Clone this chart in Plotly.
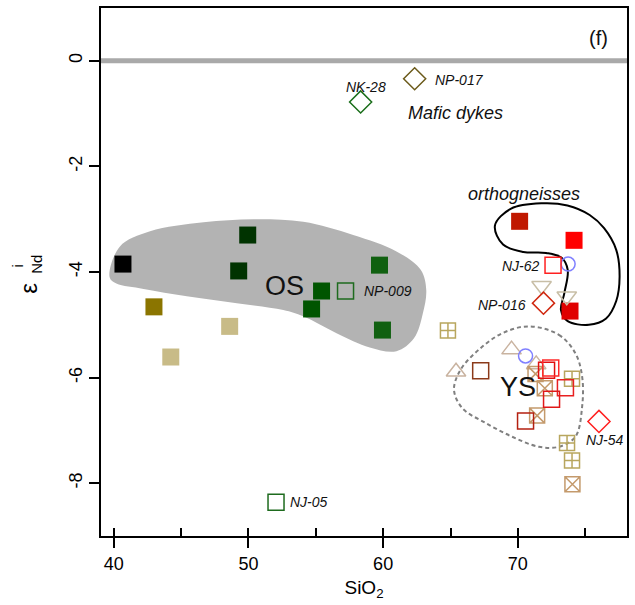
import plotly.graph_objects as go

# ---------------- data: SiO2 (wt%) vs initial epsilon Nd ----------------
# Older series (OS), filled squares
os_sio2 = [40.69, 42.99, 44.24, 48.61, 49.95, 49.28, 55.43, 54.69, 59.73, 59.95]
os_end = [-3.85, -4.66, -5.61, -5.03, -3.30, -3.98, -4.36, -4.70, -3.87, -5.10]
os_colors = ["#000000", "#8B7500", "#C8BB87", "#C8BB87", "#003300",
             "#003300", "#005500", "#005500", "#106010", "#106010"]

# Open green squares with sample names
grn_names = ["NP-009", "NJ-05"]
grn_sio2 = [57.21, 52.05]
grn_end = [-4.36, -8.36]

# Mafic dykes (open diamonds)
dyke_names = ["NK-28", "NP-017"]
dyke_sio2 = [58.33, 62.34]
dyke_end = [-0.78, -0.34]
dyke_colors = ["#1A6E1A", "#6B5A1A"]

# Orthogneisses, filled squares
ortho_sio2 = [70.13, 74.17, 73.87]
ortho_end = [-3.04, -3.40, -4.74]
ortho_colors = ["#C01800", "#FF0000", "#E00000"]

# Open red squares (NJ-62 and the younger series)
rsq_sio2 = [72.61, 72.13, 72.44, 73.53, 72.50, 70.57]
rsq_end = [-3.87, -5.86, -5.82, -6.19, -6.41, -6.82]
rsq_colors = ["#FF2020", "#E01010", "#FF2A2A", "#E82020", "#E01818", "#B42010"]

# Brown open square
brn_sio2 = [67.24]
brn_end = [-5.87]

# Red open diamonds
rdia_names = ["NP-016", "NJ-54"]
rdia_sio2 = [71.90, 76.02]
rdia_end = [-4.59, -6.83]
rdia_colors = ["#D02810", "#FF2020"]

# Blue open circles
circ_sio2 = [73.73, 70.57]
circ_end = [-3.85, -5.59]

# Open triangles
tdown_sio2 = [71.76, 73.63]
tdown_end = [-4.26, -4.46]
tup_sio2 = [69.53, 65.41, 71.36]
tup_end = [-5.47, -5.89, -5.75]

# Crossed squares
plus_sio2 = [64.81, 74.02, 73.65, 74.02]
plus_end = [-5.11, -6.02, -7.24, -7.57]
xsq_sio2 = [71.31, 72.00, 71.43, 74.05]
xsq_end = [-5.93, -6.20, -6.72, -8.02]

# Field outlines (SiO2, eNd)
os_field_x = [39.70, 40.45, 42.70, 46.67, 50.37, 54.07, 57.78, 60.99, 62.80,
              63.20, 62.95, 62.30, 60.99, 59.01, 56.54, 54.07, 52.59, 49.14,
              45.43, 42.22, 40.20, 39.70]
os_field_y = [-4.10, -3.52, -3.23, -3.06, -3.00, -3.05, -3.30, -3.61, -3.96,
              -4.34, -4.78, -5.25, -5.50, -5.43, -5.16, -4.84, -4.72, -4.59,
              -4.46, -4.32, -4.22, -4.10]
ortho_field_x = [69.50, 71.75, 73.68, 75.33, 76.40, 77.30, 77.55, 77.30, 76.55,
                 75.27, 73.70, 73.20, 73.45, 73.70, 73.25, 72.10, 70.40, 68.90,
                 68.30, 69.50]
ortho_field_y = [-2.80, -2.70, -2.74, -2.92, -3.17, -3.58, -4.09, -4.55, -4.88,
                 -5.00, -4.93, -4.72, -4.40, -3.96, -3.73, -3.64, -3.62, -3.48,
                 -3.12, -2.80]
ys_field_x = [70.82, 73.04, 74.27, 74.77, 74.77, 74.27, 73.04, 71.56, 69.58,
              67.61, 65.88, 65.26, 65.75, 67.11, 68.84, 70.82]
ys_field_y = [-5.03, -5.19, -5.54, -5.98, -6.55, -7.12, -7.31, -7.31, -7.12,
              -6.86, -6.58, -6.23, -5.85, -5.47, -5.16, -5.03]

# ---------------- figure ----------------
FONT = "Liberation Sans, Arial, Helvetica, sans-serif"
fig = go.Figure()

fig.add_trace(go.Scatter(x=os_field_x, y=os_field_y, mode="lines",
                         line=dict(color="#B3B3B3", width=0, shape="spline", smoothing=1.0),
                         fill="toself", fillcolor="#B3B3B3", hoverinfo="skip"))
fig.add_trace(go.Scatter(x=ortho_field_x, y=ortho_field_y, mode="lines",
                         line=dict(color="black", width=2, shape="spline", smoothing=1.0),
                         hoverinfo="skip"))
fig.add_trace(go.Scatter(x=ys_field_x, y=ys_field_y, mode="lines",
                         line=dict(color="#808080", width=2, dash="4px,3px",
                                   shape="spline", smoothing=1.0),
                         hoverinfo="skip"))


def markers(x, y, symbol, color, size, lw=1.5):
    fig.add_trace(go.Scatter(
        x=x, y=y, mode="markers",
        marker=dict(symbol=symbol, color=color, size=size,
                    line=dict(width=lw, color=color)),
    ))


markers(os_sio2, os_end, "square", os_colors, 17, 0)
markers(grn_sio2, grn_end, "square-open", "#1E6B1E", 16)
markers(dyke_sio2, dyke_end, "diamond-open", dyke_colors, 17)
markers(ortho_sio2, ortho_end, "square", ortho_colors, 17, 0)
markers(tdown_sio2, tdown_end, "triangle-down-open", "#C8BEA6", 17)
markers(tup_sio2, tup_end, "triangle-up-open", "#C9B3A0", 17)
markers(plus_sio2, plus_end, "square-cross-open", "#B8A65E", 15)
markers(xsq_sio2, xsq_end, "square-x-open", "#C49A6C", 15)
markers(circ_sio2, circ_end, "circle-open", "#8080FF", 14)
markers(brn_sio2, brn_end, "square-open", "#8B3A1A", 16)
markers(rsq_sio2, rsq_end, "square-open", rsq_colors, 16)
markers(rdia_sio2, rdia_end, "diamond-open", rdia_colors, 17)

# invisible trace to carry the secondary x axis (inner halves of major ticks)
fig.add_trace(go.Scatter(x=[None], y=[None], xaxis="x2", mode="markers",
                         showlegend=False, hoverinfo="skip"))

# eNd = 0 reference line
fig.add_shape(type="line", xref="paper", x0=0, x1=1, yref="y", y0=0, y1=0,
              line=dict(color="#A9A9A9", width=5), layer="above")

ann = []


def label(text, x, y, xs, ys, anchor, size=14, italic=True):
    t = f"<i>{text}</i>" if italic else text
    ann.append(dict(text=t, x=x, y=y, xref="x", yref="y", xshift=xs, yshift=ys,
                    xanchor=anchor, yanchor="middle", showarrow=False,
                    font=dict(family=FONT, size=size, color="#111111")))


# sample names
label(grn_names[0], grn_sio2[0], grn_end[0], 16, 0, "left")
label(grn_names[1], grn_sio2[1], grn_end[1], 12, 0, "left")
label(dyke_names[0], dyke_sio2[0], dyke_end[0], 5, 15, "center")
label(dyke_names[1], dyke_sio2[1], dyke_end[1], 18, -1, "left")
label("NJ-62", rsq_sio2[0], rsq_end[0], -11, -1, "right")
label(rdia_names[0], rdia_sio2[0], rdia_end[0], -15, -2, "right")
label(rdia_names[1], rdia_sio2[1], rdia_end[1], 6, -19, "center")

# field names
label("Mafic dykes", 65.39, -0.985, 0, 0, "center", size=18)
label("orthogneisses", 70.47, -2.53, 0, 0, "center", size=18)
label("OS", 52.67, -4.26, 0, 0, "center", size=27, italic=False)
label("YS", 70.02, -6.18, 0, 0, "center", size=27, italic=False)
label("(f)", 75.95, 0.44, 0, 0, "center", size=20, italic=False)

# y-axis title: epsilon with stacked i / Nd
ann.append(dict(text="ε", xref="paper", yref="paper", x=-0.137, y=0.470,
                textangle=-90, showarrow=False, xanchor="center", yanchor="middle",
                font=dict(family=FONT, size=24, color="black")))
ann.append(dict(text="Nd", xref="paper", yref="paper", x=-0.124, y=0.515,
                textangle=-90, showarrow=False, xanchor="center", yanchor="middle",
                font=dict(family=FONT, size=15, color="black")))
ann.append(dict(text="i", xref="paper", yref="paper", x=-0.158, y=0.512,
                textangle=-90, showarrow=False, xanchor="center", yanchor="middle",
                font=dict(family=FONT, size=15, color="black")))

x_range = [39.06, 78.1]
y_ticks = [0, -2, -4, -6, -8]

fig.update_layout(
    width=635, height=605,
    margin=dict(l=101, r=6, t=8, b=69),
    plot_bgcolor="white", paper_bgcolor="white",
    showlegend=False,
    font=dict(family=FONT, size=18, color="black"),
    annotations=ann,
    xaxis=dict(
        range=x_range, showgrid=False, zeroline=False,
        showline=True, mirror=True, linecolor="black", linewidth=2,
        ticks="outside", ticklen=10, tickwidth=2, tickcolor="black",
        tick0=0, dtick=10, tickfont=dict(size=18),
        minor=dict(ticks="inside", ticklen=8, tickwidth=2, tickcolor="black",
                   dtick=5, tick0=0),
        title=dict(text="SiO<sub>2</sub>", font=dict(size=19), standoff=8),
    ),
    xaxis2=dict(
        range=x_range, overlaying="x", anchor="y", side="bottom",
        showgrid=False, zeroline=False, showline=False, showticklabels=False,
        ticks="inside", ticklen=8, tickwidth=2, tickcolor="black",
        tick0=0, dtick=10,
    ),
    yaxis=dict(
        range=[-9.0, 1.0], showgrid=False, zeroline=False,
        showline=True, mirror=True, linecolor="black", linewidth=2,
        ticks="outside", ticklen=10, tickwidth=2, tickcolor="black",
        tickvals=y_ticks, ticktext=[str(v) for v in y_ticks],
        tickangle=-90, tickfont=dict(size=18),
    ),
)

fig.write_html("out.html")
